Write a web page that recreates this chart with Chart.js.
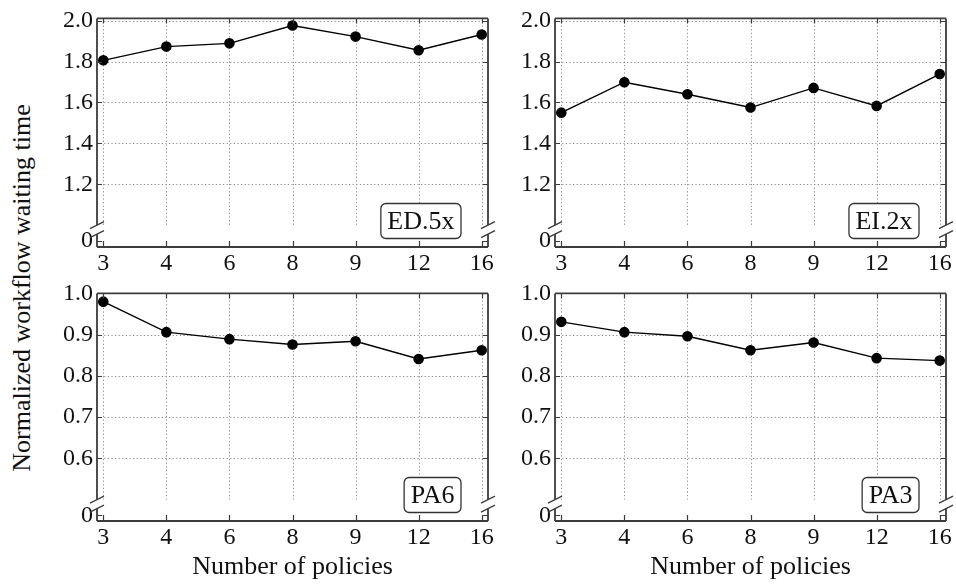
<!DOCTYPE html>
<html>
<head>
<meta charset="utf-8">
<script src="https://cdn.jsdelivr.net/npm/chart.js@4.4.1/dist/chart.umd.min.js"></script>
<style>
  body { margin:0; background:#fff; width:956px; height:584px; overflow:hidden; position:relative; }
  canvas { position:absolute; }
  #ytitle {
    position:absolute; left:-228px; top:273px; width:500px; height:30px; line-height:30px;
    text-align:center; font-family:"Liberation Serif", serif; font-size:26px; color:#111;
    transform:rotate(-90deg); transform-origin:center;
  }
</style>
</head>
<body>
<div id="ytitle">Normalized workflow waiting time</div>
<canvas id="edChart" width="500" height="280" style="left:0;top:0"></canvas>
<canvas id="eiChart" width="456" height="280" style="left:500px;top:0"></canvas>
<canvas id="pa6Chart" width="500" height="309" style="left:0;top:275px"></canvas>
<canvas id="pa3Chart" width="456" height="309" style="left:500px;top:275px"></canvas>
<script>
var policies = ['3','4','6','8','9','12','16'];

var ed5x = [1.806, 1.873, 1.889, 1.976, 1.922, 1.855, 1.932];
var ei2x = [1.550, 1.699, 1.640, 1.575, 1.671, 1.583, 1.739];
var pa6  = [0.980, 0.906, 0.889, 0.876, 0.884, 0.841, 0.862];
var pa3  = [0.931, 0.906, 0.896, 0.862, 0.881, 0.843, 0.837];

var topTicks = [1.2, 1.4, 1.6, 1.8, 2.0];
var bottomTicks = [0.6, 0.7, 0.8, 0.9, 1.0];

var FONT = '"Liberation Serif", "Times New Roman", serif';
var AXIS = '#3c3c3c';

// draws grid, frame, inward ticks, the axis break marks and the panel label
var brokenAxis = {
  id: 'brokenAxis',
  beforeDatasetsDraw: function(chart, args, opts) {
    var ctx = chart.ctx, a = chart.chartArea, x = chart.scales.x, y = chart.scales.y;
    var yb = y.getPixelForValue(opts.breakAt);
    ctx.save();
    ctx.strokeStyle = '#8c8c8c';
    ctx.lineWidth = 1;
    ctx.setLineDash([1.2, 2.4]);
    ctx.beginPath();
    for (var i = 1; i < y.ticks.length; i++) {
      var py = Math.round(y.getPixelForValue(y.ticks[i].value)) + 0.5;
      ctx.moveTo(a.left, py); ctx.lineTo(a.right, py);
    }
    for (var j = 0; j < x.ticks.length; j++) {
      var px = Math.round(x.getPixelForValue(x.ticks[j].value)) + 0.5;
      ctx.moveTo(px, a.top); ctx.lineTo(px, yb);
    }
    ctx.stroke();
    ctx.restore();
  },
  afterDraw: function(chart, args, opts) {
    var ctx = chart.ctx, a = chart.chartArea, x = chart.scales.x, y = chart.scales.y;
    var yb = y.getPixelForValue(opts.breakAt);
    var yl = yb + opts.gap;
    ctx.save();
    ctx.strokeStyle = AXIS;
    // frame
    ctx.lineWidth = 1.8;
    ctx.beginPath();
    ctx.moveTo(a.left, a.top); ctx.lineTo(a.right, a.top);
    ctx.moveTo(a.left, a.bottom); ctx.lineTo(a.right, a.bottom);
    ctx.moveTo(a.left, a.top); ctx.lineTo(a.left, yb);
    ctx.moveTo(a.left, yl); ctx.lineTo(a.left, a.bottom);
    ctx.moveTo(a.right, a.top); ctx.lineTo(a.right, yb);
    ctx.moveTo(a.right, yl); ctx.lineTo(a.right, a.bottom);
    ctx.stroke();
    // ticks
    ctx.lineWidth = 1.2;
    ctx.beginPath();
    x.ticks.forEach(function(t) {
      var px = Math.round(x.getPixelForValue(t.value)) + 0.5;
      ctx.moveTo(px, a.top); ctx.lineTo(px, a.top + 5);
      ctx.moveTo(px, a.bottom); ctx.lineTo(px, a.bottom - 6);
    });
    y.ticks.forEach(function(t) {
      var py = Math.round(y.getPixelForValue(t.value)) + 0.5;
      ctx.moveTo(a.left, py); ctx.lineTo(a.left + 5, py);
      ctx.moveTo(a.right, py); ctx.lineTo(a.right - 5, py);
    });
    ctx.stroke();
    // break marks
    ctx.lineWidth = 1.3;
    ctx.beginPath();
    [a.left, a.right].forEach(function(px) {
      [yb, yl].forEach(function(py) {
        ctx.moveTo(px - 7, py + 3.5); ctx.lineTo(px + 7, py - 3.5);
      });
    });
    ctx.stroke();
    // label box
    ctx.font = '26px ' + FONT;
    var w = ctx.measureText(opts.label).width + 13;
    var h = 35;
    var r = a.right - 27, b = a.bottom - 8.5;
    ctx.beginPath();
    ctx.roundRect(r - w, b - h, w, h, 5);
    ctx.fillStyle = '#fff';
    ctx.fill();
    ctx.lineWidth = 1.3;
    ctx.strokeStyle = '#333';
    ctx.stroke();
    ctx.fillStyle = '#111';
    ctx.textAlign = 'center';
    ctx.textBaseline = 'middle';
    ctx.fillText(opts.label, r - w / 2, b - h / 2 + 1);
    ctx.restore();
  }
};

function makePanel(id, values, yTicks, p) {
  var points = values.map(function(v, i) { return {x: i, y: v}; });
  var ctx = document.getElementById(id);
  return new Chart(ctx, {
    type: 'line',
    data: {
      datasets: [{
        data: points,
        borderColor: '#000',
        borderWidth: 1.4,
        pointRadius: 4.6,
        pointBackgroundColor: '#000',
        pointBorderColor: '#000',
        tension: 0
      }]
    },
    options: {
      responsive: false,
      animation: false,
      devicePixelRatio: 1,
      layout: { padding: { left: 0, top: p.padTop, right: p.padRight, bottom: 0 } },
      plugins: {
        legend: { display: false },
        tooltip: { enabled: false },
        brokenAxis: { breakAt: p.breakAt, gap: 9, label: p.label }
      },
      scales: {
        x: {
          type: 'linear',
          min: -0.1,
          max: policies.length - 0.9,
          grid: { display: false, drawTicks: false },
          border: { display: false },
          afterBuildTicks: function(scale) {
            scale.ticks = policies.map(function(c, i) { return {value: i}; });
          },
          afterFit: function(scale) { scale.height = p.xHeight; },
          ticks: {
            autoSkip: false,
            maxRotation: 0,
            padding: 2,
            color: '#111',
            font: { family: FONT, size: 24 },
            callback: function(v, i) { return policies[i]; }
          },
          title: {
            display: p.xTitle,
            text: 'Number of policies',
            color: '#111',
            font: { family: FONT, size: 26 },
            padding: { top: 0, bottom: 1 }
          }
        },
        y: {
          type: 'linear',
          min: p.min,
          max: p.max,
          grid: { display: false, drawTicks: false },
          border: { display: false },
          afterBuildTicks: function(scale) {
            scale.ticks = [{value: p.zeroAt}].concat(yTicks.map(function(v) { return {value: v}; }));
          },
          afterFit: function(scale) { scale.width = p.yWidth; },
          ticks: {
            autoSkip: false,
            padding: 4,
            color: '#111',
            font: { family: FONT, size: 24 },
            callback: function(v, i) { return i === 0 ? '0' : yTicks[i - 1].toFixed(1); }
          }
        }
      }
    },
    plugins: [brokenAxis]
  });
}

makePanel('edChart', ed5x, topTicks, {label: 'ED.5x', min: 0.893, max: 2.011, breakAt: 1.0, zeroAt: 0.923,
  yWidth: 97, padTop: 18, padRight: 12, xHeight: 33, xTitle: false});
makePanel('eiChart', ei2x, topTicks, {label: 'EI.2x', min: 0.893, max: 2.011, breakAt: 1.0, zeroAt: 0.923,
  yWidth: 55, padTop: 18, padRight: 10, xHeight: 33, xTitle: false});
makePanel('pa6Chart', pa6, bottomTicks, {label: 'PA6', min: 0.448, max: 1.0, breakAt: 0.5, zeroAt: 0.462,
  yWidth: 97, padTop: 18, padRight: 12, xHeight: 63, xTitle: true});
makePanel('pa3Chart', pa3, bottomTicks, {label: 'PA3', min: 0.448, max: 1.0, breakAt: 0.5, zeroAt: 0.462,
  yWidth: 55, padTop: 18, padRight: 10, xHeight: 63, xTitle: true});
</script>
</body>
</html>
